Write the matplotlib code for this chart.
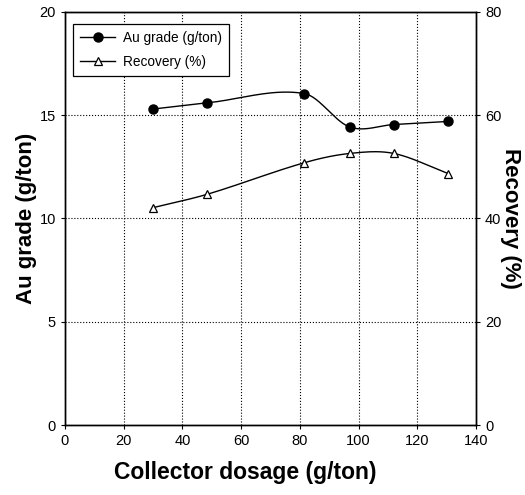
import numpy as np
import matplotlib
matplotlib.use("Agg")
import matplotlib.pyplot as plt
from matplotlib.lines import Line2D

plt.rcParams['font.family'] = ['Liberation Sans', 'DejaVu Sans']

# Data
dosage = [30, 48.5, 81.5, 97, 112, 130.5]
au_grade = [15.3, 15.6, 16.05, 14.43, 14.55, 14.7]
recovery = [42.1, 44.7, 50.8, 52.6, 52.6, 48.7]

x_ticks = [0, 20, 40, 60, 80, 100, 120, 140]
au_ticks = [0, 5, 10, 15, 20]
rec_ticks = [0, 20, 40, 60, 80]


def smooth_line(x, y, n=200):
    """Cubic Hermite (Catmull-Rom style) curve through the points."""
    x = np.asarray(x, float)
    y = np.asarray(y, float)
    k = len(x)
    m = np.zeros(k)
    m[0] = (y[1] - y[0]) / (x[1] - x[0])
    m[-1] = (y[-1] - y[-2]) / (x[-1] - x[-2])
    for i in range(1, k - 1):
        m[i] = (y[i + 1] - y[i - 1]) / (x[i + 1] - x[i - 1])
    xs = np.linspace(x[0], x[-1], n)
    ys = np.empty_like(xs)
    for j, xv in enumerate(xs):
        i = min(np.searchsorted(x, xv, side='right') - 1, k - 2)
        h = x[i + 1] - x[i]
        t = (xv - x[i]) / h
        h00 = 2 * t**3 - 3 * t**2 + 1
        h10 = t**3 - 2 * t**2 + t
        h01 = -2 * t**3 + 3 * t**2
        h11 = t**3 - t**2
        ys[j] = h00 * y[i] + h10 * h * m[i] + h01 * y[i + 1] + h11 * h * m[i + 1]
    return xs, ys


fig = plt.figure(figsize=(5.25, 4.95), dpi=100)
ax = fig.add_axes([0.1238, 0.1414, 0.7829, 0.8344])
ax2 = ax.twinx()

xs, ys = smooth_line(dosage, au_grade)
ax.plot(xs, ys, color='black', lw=1.0)
ax.plot(dosage, au_grade, 'o', color='black', ms=6.5)

xs, ys = smooth_line(dosage, recovery)
ax2.plot(xs, ys, color='black', lw=1.0)
ax2.plot(dosage, recovery, '^', color='black', mfc='white', ms=6, mew=0.9)

ax.set_xlim(0, 140)
ax.set_ylim(0, 20)
ax2.set_ylim(0, 80)
ax.set_xticks(x_ticks)
ax.set_yticks(au_ticks)
ax2.set_yticks(rec_ticks)

ax.grid(True, linestyle=':', color='black', lw=0.8)
for a in (ax, ax2):
    a.tick_params(labelsize=10.5, length=3, width=0.8)
    for s in a.spines.values():
        s.set_linewidth(1.0)

ax.set_xlabel('Collector dosage (g/ton)', fontsize=16.5, fontweight='bold', labelpad=9)
ax.xaxis.label.set_x(0.438)
ax.set_ylabel('Au grade (g/ton)', fontsize=16, fontweight='bold', labelpad=2)
ax2.set_ylabel('Recovery (%)', fontsize=16, fontweight='bold', rotation=-90, labelpad=14)

handles = [
    Line2D([], [], color='black', lw=1.0, marker='o', ms=6.5),
    Line2D([], [], color='black', lw=1.0, marker='^', mfc='white', ms=6, mew=0.9),
]
leg = ax.legend(handles, ['Au grade (g/ton)', 'Recovery (%)'], loc='upper left',
                bbox_to_anchor=(0.003, 0.987), fontsize=9.8, fancybox=False,
                edgecolor='black', framealpha=1, borderpad=0.5, handlelength=2.6,
                labelspacing=0.75, handletextpad=0.6)
leg.get_frame().set_linewidth(0.9)

fig.savefig('out.png', dpi=100)
